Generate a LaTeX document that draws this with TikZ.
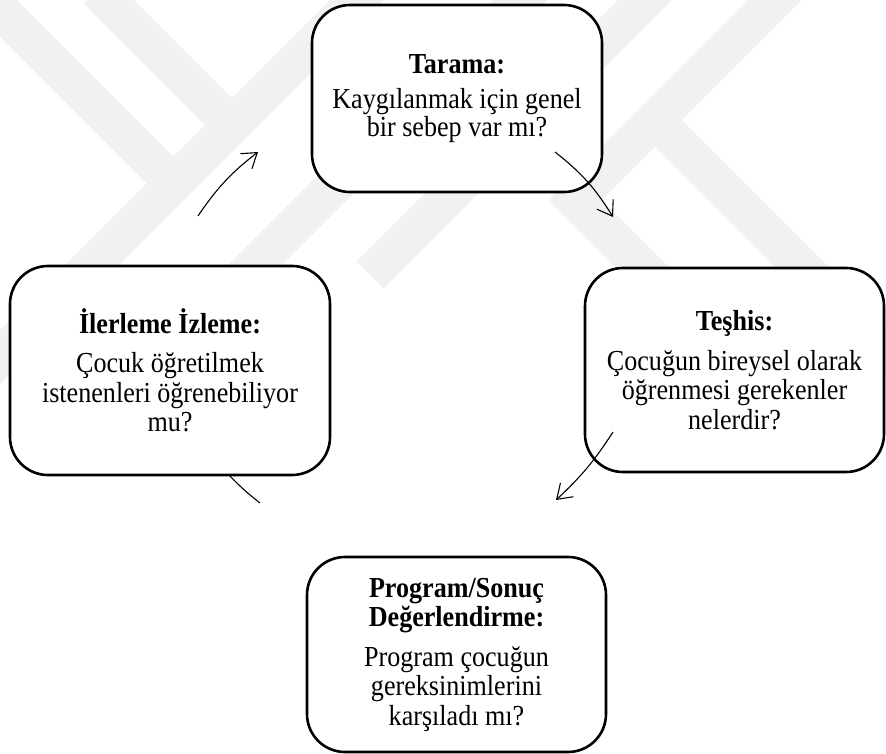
\documentclass[tikz,border=0pt]{standalone}
\usepackage{fontspec}
\setmainfont{Liberation Serif}[FakeStretch=0.9]
\usetikzlibrary{arrows.meta}
\definecolor{wmgray}{gray}{0.945}
\begin{document}
\begin{tikzpicture}[x=1pt,y=1pt,
  band/.style={draw=wmgray,line width=38pt,line join=miter},
  stage/.style={draw=black,line width=2.6pt,fill=white,rounded corners=38pt,
    align=center,inner sep=0pt,font=\fontsize{29}{29.5}\selectfont},
  tight/.style={font=\fontsize{29}{25.5}\selectfont},
  cyc/.style={draw=black,line width=1.1pt,-{Straight Barb[length=14pt,width=19pt]}},
  tail/.style={draw=black,line width=1.1pt},
]
\useasboundingbox (0,0) rectangle (886,-754);

% faint striped emblem in the background
\begin{scope}
  \clip (0,0) rectangle (886,-754);
  \draw[band] (-20,10) -- (173,-183);
  \draw[band] (97,10) -- (232,-125);
  \draw[band] (377,20) -- (-20,-377);
  \draw[band] (540,20) -- (240,-280);
  \draw[band] (665,20) -- (370,-275);
  \draw[band] (795,20) -- (575,-200) -- (720,-345);
  \draw[band] (655,-120) -- (910,-375);
\end{scope}

% tail of the arrow that runs into the progress box
\coordinate (a3s) at (260,-503);
\coordinate (a3e) at (229,-475);
\draw[tail] (a3s) to[bend left=4] (a3e);

% the four stages
\node[stage,tight,minimum width=290pt,minimum height=187pt] (tarama) at (457,-98.5)
  {\textbf{Tarama:}\\[10pt]Kaygılanmak için genel\\bir sebep var mı?};
\node[stage,minimum width=320pt,minimum height=209pt] (ilerleme) at (170,-370.5)
  {\textbf{İlerleme İzleme:}\\[10pt]Çocuk öğretilmek\\istenenleri öğrenebiliyor\\mu?};
\node[stage,minimum width=299pt,minimum height=204pt] (teshis) at (734.5,-370)
  {\textbf{Teşhis:}\\[10pt]Çocuğun bireysel olarak\\öğrenmesi gerekenler\\nelerdir?};
\node[stage,minimum width=299pt,minimum height=195pt] (program) at (456.5,-654.5)
  {\textbf{Program/Sonuç}\\\textbf{Değerlendirme:}\\[10pt]Program çocuğun\\gereksinimlerini\\karşıladı mı?};

% clockwise cycle arrows
\coordinate (a1s) at (555,-152);
\coordinate (a1e) at (613,-217);
\draw[cyc] (a1s) to[bend left=10] (a1e);

\coordinate (a2s) at (613,-432);
\coordinate (a2e) at (556,-500);
\draw[cyc] (a2s) to[bend left=7] (a2e);

\coordinate (a4s) at (198,-216);
\coordinate (a4e) at (258,-152);
\draw[cyc] (a4s) to[bend left=9] (a4e);
\end{tikzpicture}
\end{document}
